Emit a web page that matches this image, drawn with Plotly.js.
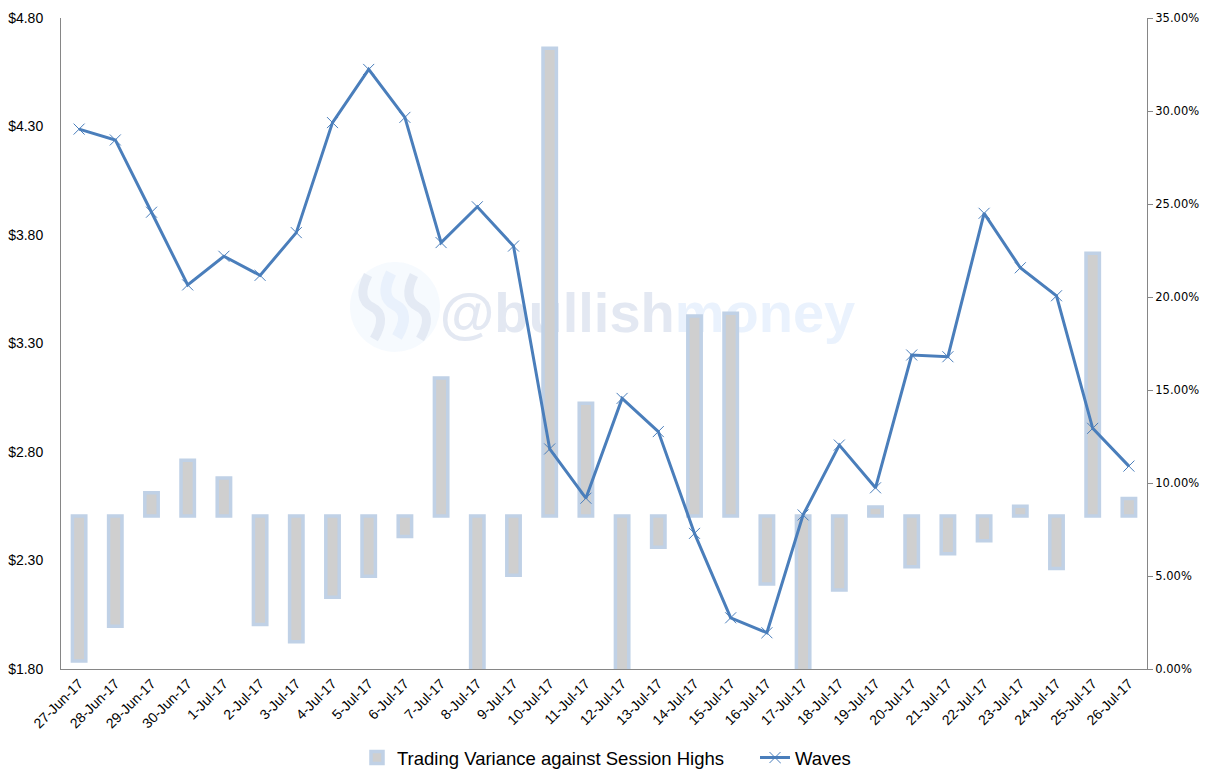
<!DOCTYPE html>
<html>
<head>
<meta charset="utf-8">
<script src="https://cdn.plot.ly/plotly-3.0.1.min.js"></script>
<style>
  html, body { margin: 0; padding: 0; background: #ffffff; }
  #chart { width: 1209px; height: 784px; }
</style>
</head>
<body>
<div id="chart"></div>
<script>
// ---- data ----
const dates = ['27-Jun-17','28-Jun-17','29-Jun-17','30-Jun-17','1-Jul-17','2-Jul-17','3-Jul-17','4-Jul-17','5-Jul-17','6-Jul-17',
  '7-Jul-17','8-Jul-17','9-Jul-17','10-Jul-17','11-Jul-17','12-Jul-17','13-Jul-17','14-Jul-17','15-Jul-17','16-Jul-17',
  '17-Jul-17','18-Jul-17','19-Jul-17','20-Jul-17','21-Jul-17','22-Jul-17','23-Jul-17','24-Jul-17','25-Jul-17','26-Jul-17'];

// Waves price (USD, left axis)
const wavesPrice = [4.288, 4.238, 3.905, 3.570, 3.702, 3.614, 3.811, 4.318, 4.563, 4.342,
  3.765, 3.930, 3.749, 2.814, 2.587, 3.047, 2.894, 2.425, 2.036, 1.967,
  2.510, 2.832, 2.635, 3.247, 3.239, 3.900, 3.649, 3.520, 2.909, 2.735];

// Trading variance against session highs (percentage points, right axis), measured from the base level
const varianceBase = 8.23;
const variance = [-7.80, -5.93, 1.24, 2.99, 2.04, -5.84, -6.76, -4.37, -3.24, -1.11,
  7.42, -10.0, -3.19, 25.15, 6.06, -10.0, -1.68, 10.75, 10.90, -3.66,
  -10.0, -3.98, 0.48, -2.73, -2.04, -1.33, 0.52, -2.83, 14.12, 0.93];

// ---- layout helpers ----
const L = 61, R = 1147, T = 18, B = 669;
const px = x => (x - L) / (R - L);
const py = y => (B - y) / (B - T);

const axisColor = '#868686';
const font = 'Liberation Sans, Arial, sans-serif';

const traces = [
  {
    type: 'bar',
    name: 'Trading Variance against Session Highs',
    x: dates,
    y: variance,
    base: dates.map(() => varianceBase),
    yaxis: 'y',
    width: 0.37,
    marker: { color: '#CFCFCF', line: { color: '#C0D1E6', width: 3.5 } },
    hoverinfo: 'x+y'
  },
  {
    type: 'scatter',
    mode: 'lines+markers',
    name: 'Waves',
    x: dates,
    y: wavesPrice,
    yaxis: 'y2',
    line: { color: '#4A7EBB', width: 3 },
    marker: { symbol: 'x-thin-open', size: 11, color: '#4A7EBB', line: { color: '#4A7EBB', width: 1 } }
  }
];

// faint steem-like logo strokes for the watermark
function sPath(cx, cy) {
  const p = (x, y) => px(x).toFixed(4) + ',' + py(y).toFixed(4);
  return 'M' + p(cx - 4, cy - 32) + ' Q' + p(cx - 16, cy - 8) + ' ' + p(cx, cy) +
         ' T' + p(cx + 2, cy + 32);
}

const layout = {
  width: 1209,
  height: 784,
  margin: { l: L, r: 1209 - R, t: T, b: 784 - B, autoexpand: false },
  paper_bgcolor: '#ffffff',
  plot_bgcolor: '#ffffff',
  font: { family: font, color: '#000000' },
  showlegend: true,
  legend: {
    orientation: 'h',
    x: px(357), xanchor: 'left',
    y: py(758), yanchor: 'middle',
    font: { size: 18.5, family: font, color: '#000000' },
    itemwidth: 30,
    entrywidth: 353,
    entrywidthmode: 'pixels',
    traceorder: 'normal'
  },
  xaxis: {
    type: 'category',
    range: [-0.5, dates.length - 0.5],
    automargin: false,
    showline: true, linecolor: axisColor, linewidth: 1,
    showgrid: false, zeroline: false,
    ticks: '',
    tickangle: -45,
    tickfont: { size: 14, family: font, color: '#000000' },
    fixedrange: true
  },
  yaxis: {
    side: 'right',
    range: [0, 35],
    tick0: 0, dtick: 5,
    tickformat: '.2f', ticksuffix: '%',
    showline: true, linecolor: axisColor, linewidth: 1,
    ticks: 'outside', ticklen: 5, tickcolor: axisColor,
    showgrid: false, zeroline: false,
    automargin: false,
    tickfont: { size: 11.5, family: 'DejaVu Sans, sans-serif', color: '#000000' },
    fixedrange: true
  },
  yaxis2: {
    overlaying: 'y',
    side: 'left',
    range: [1.8, 4.8],
    tick0: 1.8, dtick: 0.5,
    tickformat: '.2f', tickprefix: '$',
    showline: true, linecolor: axisColor, linewidth: 1,
    ticks: '',
    ticklabelstandoff: 14,
    showgrid: false, zeroline: false,
    automargin: false,
    tickfont: { size: 14, family: font, color: '#000000' },
    fixedrange: true
  },
  shapes: [
    {
      type: 'circle', xref: 'paper', yref: 'paper', layer: 'below',
      x0: px(350), x1: px(440), y0: py(352), y1: py(262),
      fillcolor: 'rgba(240,246,253,0.6)', line: { width: 0 }
    },
    { type: 'path', xref: 'paper', yref: 'paper', layer: 'below', path: sPath(372, 307), line: { color: '#E4EAF4', width: 9 } },
    { type: 'path', xref: 'paper', yref: 'paper', layer: 'below', path: sPath(395, 305), line: { color: '#E9F1FC', width: 11 } },
    { type: 'path', xref: 'paper', yref: 'paper', layer: 'below', path: sPath(418, 307), line: { color: '#E4EAF4', width: 9 } },
    {
      type: 'rect', xref: 'paper', yref: 'paper', layer: 'below',
      x0: px(440), x1: px(855), y0: py(340), y1: py(275),
      fillcolor: 'rgba(0,0,0,0)', line: { width: 0 },
      label: {
        text: '@bullish<span style="color:#EAF2FD">money</span>',
        textposition: 'middle center',
        font: { family: 'Liberation Sans, Arial, sans-serif', size: 56, color: '#E3E8F2', weight: 'bold' }
      }
    }
  ]
};

Plotly.newPlot('chart', traces, layout, { displayModeBar: false, staticPlot: true });
</script>
</body>
</html>
